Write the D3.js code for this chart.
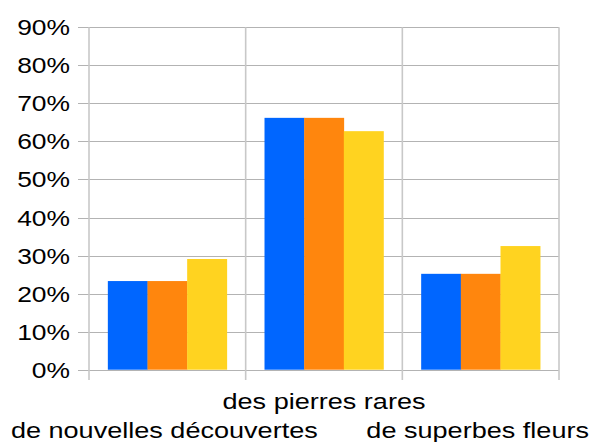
<!DOCTYPE html>
<html>
<head>
<meta charset="utf-8">
<script src="https://cdn.jsdelivr.net/npm/d3@7"></script>
<style>
  html, body { margin: 0; padding: 0; background: #fff; }
  svg { display: block; }
  text { font-family: "Liberation Sans", Arial, sans-serif; fill: #000; }
</style>
</head>
<body>
<svg id="chart" width="595" height="442"></svg>
<script>
const categories = ["de nouvelles découvertes", "des pierres rares", "de superbes fleurs"];
const series1 = [23.3, 66.2, 25.2];
const series2 = [23.3, 66.2, 25.2];
const series3 = [29.1, 62.7, 32.5];
const tickValues = [0, 10, 20, 30, 40, 50, 60, 70, 80, 90];
const tickLabels = ["0%", "10%", "20%", "30%", "40%", "50%", "60%", "70%", "80%", "90%"];
const colors = ["#0066ff", "#ff860d", "#ffd320"];

(function () {
const svg = d3.select("#chart");
const pLeft = 89, pRight = 559, pTop = 27.3, pBottom = 369.7;
const sx = 1.2; // horizontal text stretch as in reference

const x = d3.scaleBand().domain(categories).range([pLeft, pRight]).paddingInner(0).paddingOuter(0);
const y = d3.scaleLinear().domain([0, 90]).range([pBottom, pTop]);
const seriesNames = ["s1", "s2", "s3"];
const xInner = d3.scaleBand().domain(seriesNames).range([0, x.bandwidth()]).paddingOuter(0.475).paddingInner(0);

// horizontal gridlines + ticks
svg.append("g").selectAll("line").data(tickValues).join("line")
  .attr("x1", 78).attr("x2", pRight)
  .attr("y1", d => Math.round(y(d)) + 0.5).attr("y2", d => Math.round(y(d)) + 0.5)
  .attr("stroke", "#b3b3b3").attr("stroke-width", 1);

// vertical category lines
const vlines = categories.map(c => x(c)).concat([pRight]);
svg.append("g").selectAll("line").data(vlines).join("line")
  .attr("x1", d => d).attr("x2", d => d)
  .attr("y1", pTop).attr("y2", 380)
  .attr("stroke", "#c8c8c8").attr("stroke-width", 1.6);

// bars
const data = categories.map((c, i) => ({ c, vals: [series1[i], series2[i], series3[i]] }));
const groups = svg.append("g").selectAll("g").data(data).join("g")
  .attr("transform", d => `translate(${x(d.c)},0)`);
groups.selectAll("rect").data(d => d.vals.map((v, j) => ({ v, j }))).join("rect")
  .attr("x", d => xInner(seriesNames[d.j]))
  .attr("width", xInner.bandwidth() + 0.3)
  .attr("y", d => y(d.v))
  .attr("height", d => y(0) - y(d.v))
  .attr("fill", d => colors[d.j]);

// y tick labels
svg.append("g").selectAll("text").data(tickValues).join("text")
  .attr("transform", d => `translate(70,${y(d) + 8}) scale(${sx},1)`)
  .attr("text-anchor", "end")
  .attr("font-size", 22)
  .text((d, i) => tickLabels[i]);

// category labels (staggered)
svg.append("g").selectAll("text").data(categories).join("text")
  .attr("transform", (d, i) => `translate(${x(d) + x.bandwidth() / 2 - (i === 1 ? 0 : 3)},${i === 1 ? 409 : 438}) scale(1.23,1)`)
  .attr("text-anchor", "middle")
  .attr("font-size", 22)
  .text(d => d);
})();
</script>
</body>
</html>
